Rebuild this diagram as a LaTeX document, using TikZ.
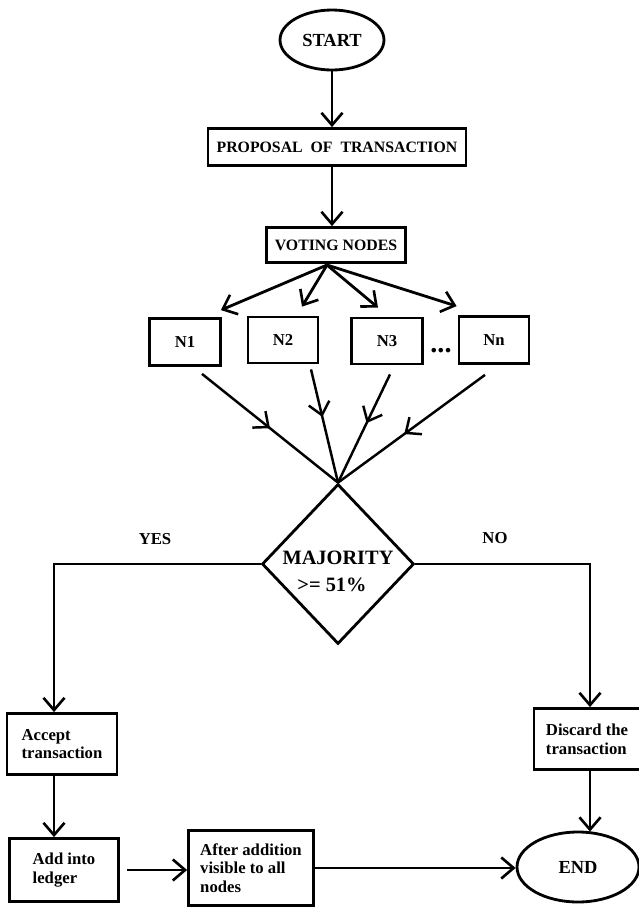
\documentclass[tikz,border=0pt]{standalone}
\usepackage{fontspec}
\setmainfont{Liberation Serif}
\usetikzlibrary{arrows.meta,shapes.geometric,decorations.markings,calc}
\begin{document}
\begin{tikzpicture}[x=0.02cm,y=-0.02cm,
  every node/.style={font=\bfseries},
  boxnode/.style={draw,line width=1.6pt,rectangle,inner sep=0pt,align=left,font=\bfseries\fontsize{9.5}{10.6}\selectfont},
  termnode/.style={draw,line width=1.6pt,ellipse,inner sep=0pt,font=\bfseries\fontsize{10.5}{12}\selectfont},
  tip/.tip={Straight Barb[length=7pt,width=12pt,line width=1.5pt]},
  arr/.style={line width=1.6pt,-tip},
  midarr/.style={line width=1.4pt,postaction={decorate},decoration={markings,mark=at position #1 with {\arrow{Straight Barb[length=7pt,width=12pt,line width=1.4pt]}}}},
  lbl/.style={font=\bfseries\fontsize{9.5}{11}\selectfont}
]
\useasboundingbox (0,0) rectangle (639,907);

% nodes
\node[termnode,minimum width=2.08cm,minimum height=1.2cm] (start) at (332,40) {START};
\node[boxnode,minimum width=5.16cm,minimum height=0.74cm,font=\bfseries\fontsize{9}{11}\selectfont] (prop) at (337,147) {PROPOSAL\ \ OF\ \ TRANSACTION};
\node[boxnode,minimum width=2.78cm,minimum height=0.7cm,font=\bfseries\fontsize{9}{11}\selectfont] (vote) at (336,245) {VOTING NODES};

\node[boxnode,minimum width=1.42cm,minimum height=0.94cm] (n1) at (185,342) {N1};
\node[boxnode,minimum width=1.40cm,minimum height=0.92cm] (n2) at (283,340) {N2};
\node[boxnode,minimum width=1.42cm,minimum height=0.92cm] (n3) at (387,341) {N3};
\node[boxnode,minimum width=1.40cm,minimum height=0.94cm] (nn) at (494,340) {Nn};
\node[font=\bfseries\fontsize{16}{16}\selectfont,inner sep=0pt] (dots) at (441,351) {...};

\node[draw,line width=1.6pt,diamond,inner sep=0pt,minimum width=3.04cm,minimum height=3.2cm] (dia) at (338,564) {};
\node[font=\bfseries\fontsize{11.6}{14}\selectfont,inner sep=0pt] (maj) at (338,558) {MAJORITY};
\node[font=\bfseries\fontsize{11.6}{14}\selectfont,inner sep=0pt] (pct) at (332,585) {>= 51\%};

\node[lbl] (yes) at (155,539) {YES};
\node[lbl] (no) at (495,538) {NO};

\node[boxnode,minimum width=2.2cm,minimum height=1.22cm] (acc) at (62,744) {Accept\\transaction};
\node[boxnode,minimum width=2.18cm,minimum height=1.26cm] (add) at (64,870) {Add into\\ledger};
\node[boxnode,minimum width=2.5cm,minimum height=1.5cm] (after) at (251,868) {After addition\\visible to all\\nodes};
\node[boxnode,minimum width=2.12cm,minimum height=1.22cm] (dis) at (587,739) {Discard the\\transaction};
\node[termnode,minimum width=2.44cm,minimum height=1.4cm] (end) at (578,867) {END};

% coordinates
\coordinate (vs) at (327,265);
\coordinate (yc) at (54,564);
\coordinate (nc) at (590,564);

% connectors
\draw[arr] (start.south) -- (start.south |- prop.north);
\draw[arr] (prop.south -| start.south) -- (start.south |- vote.north);

\draw[arr] (vs) -- ([shift={(-1,-7)}]n1.north east);
\draw[arr] (vs) -- ([shift={(19,-9)}]n2.north);
\draw[arr] (vs) -- ([shift={(-9,-9)}]n3.north);
\draw[arr] (vs) -- ([shift={(-1,-9)}]nn.north west);

\draw[midarr=0.5] ([shift={(17,7)}]n1.south) -- (dia.north);
\draw[midarr=0.42] ([shift={(28,5)}]n2.south) -- (dia.north);
\draw[midarr=0.45] ([shift={(3,9)}]n3.south) -- (dia.north);
\draw[midarr=0.55] ([shift={(-9,10)}]nn.south) -- (dia.north);

\draw[arr] (dia.west) -- (yc) -- (yc |- acc.north);
\draw[arr] (dia.east) -- (nc) -- (nc |- dis.north);

\draw[arr] (yc |- acc.south) -- (yc |- add.north);
\draw[arr] ([xshift=4pt]add.east) -- (add.east -| after.west);
\draw[arr] (after.east) -- (after.east -| end.west);
\draw[arr] (nc |- dis.south) -- ($(nc |- end.north)+(0,1)$);
\end{tikzpicture}
\end{document}
